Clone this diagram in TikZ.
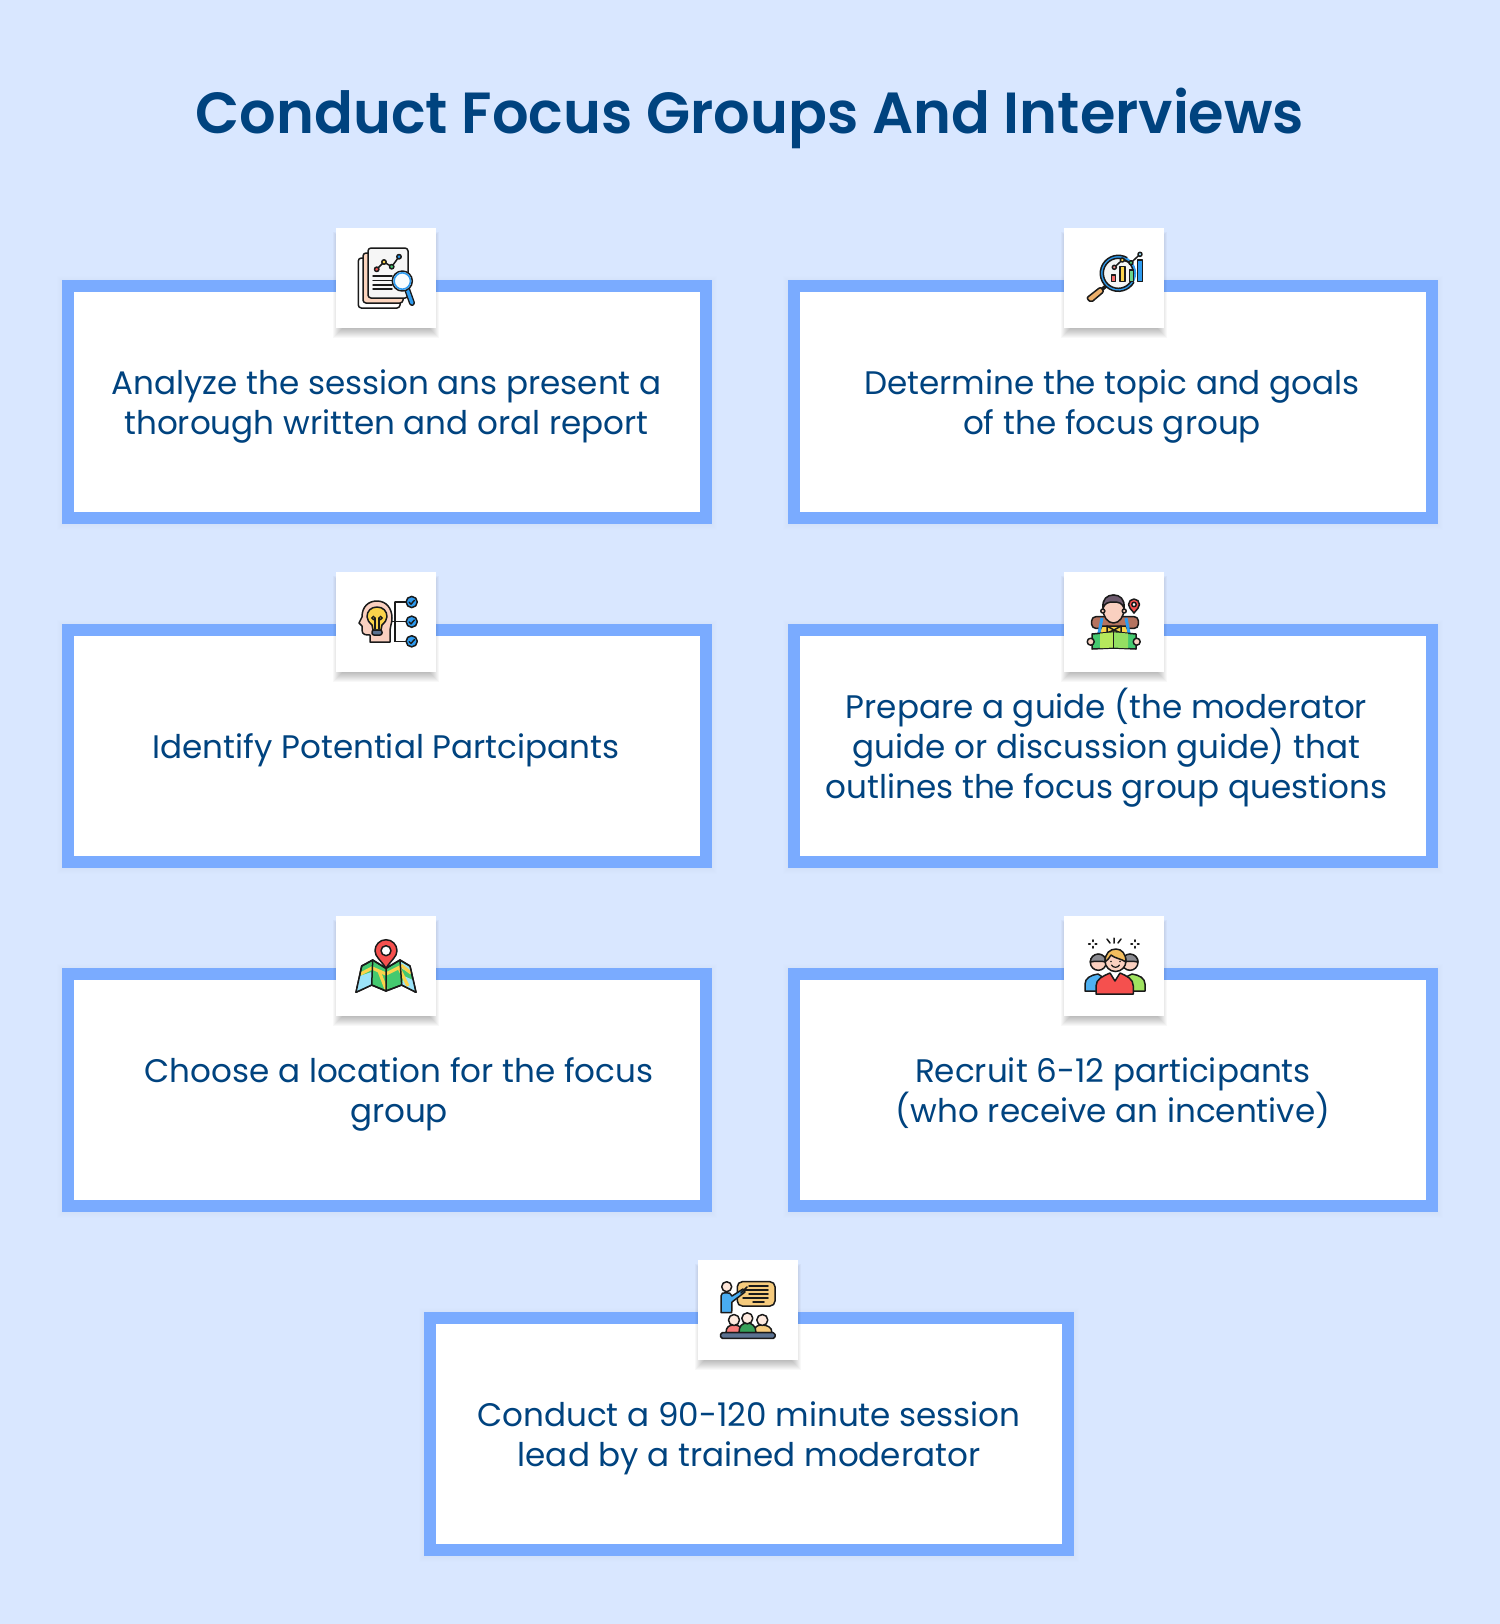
\documentclass[tikz,border=0pt]{standalone}
\usepackage{fontspec}
\setmainfont{Poppins}[FakeStretch=1.0]
\newfontfamily\titlefont{Poppins SemiBold}[FakeStretch=0.99]
\definecolor{pagebg}{HTML}{D9E7FF}
\definecolor{cardborder}{HTML}{7AABFF}
\definecolor{inkblue}{HTML}{00437F}
\definecolor{ol}{HTML}{1A1A1A}
\definecolor{peach}{HTML}{FDD5BE}
\definecolor{skin}{HTML}{FAD0C0}
\definecolor{iblue}{HTML}{2E9BEF}
\definecolor{ired}{HTML}{F5504E}
\definecolor{iyellow}{HTML}{FBD34B}
\definecolor{igreen}{HTML}{45C96F}
\definecolor{lgreen}{HTML}{B6E85C}
\definecolor{sky}{HTML}{9BE3F9}
\definecolor{orangey}{HTML}{EDAF6A}
\definecolor{sand}{HTML}{F6CB7D}
\definecolor{slate}{HTML}{5B7291}
\definecolor{grayhair}{HTML}{8A8A90}
\definecolor{brownbag}{HTML}{B5735F}
\definecolor{purplehair}{HTML}{6D5A6E}
\tikzset{
  x=0.5pt,y=-0.5pt,
  cardbox/.style={draw=cardborder,fill=white,line width=6pt,minimum width=319pt,minimum height=116pt,inner sep=0pt,outer sep=0pt},
  iconbox/.style={fill=white,minimum width=50pt,minimum height=50pt,inner sep=0pt,outer sep=0pt},
  cardtext/.style={text=inkblue,align=center,font=\fontsize{16.3}{20}\selectfont,inner sep=0pt},
  titletext/.style={text=inkblue,font=\titlefont\fontsize{29}{34}\selectfont,inner sep=0pt},
  ic/.style={draw=ol,line width=0.75pt,line join=round,line cap=round},
  il/.style={draw=ol,line width=0.75pt,line cap=round},
}
\newcommand{\softshadow}[7]{% x1 y1 x2 y2 dy opacity spread
  \foreach \gr in {0,1,...,13}{
    \fill[black,opacity=#6] ({#1-#7+\gr},{#2+#5-#7+\gr}) rectangle ({#3+#7-\gr},{#4+#5+#7-\gr});
  }
}
\newcommand{\iconreport}{
  \draw[ic,fill=white,rounded corners=1.5pt] (22.3,30) rectangle (64,80);
  \draw[ic,fill=peach,rounded corners=1.5pt] (27,25) rectangle (67,75);
  \draw[ic,fill=white!93!gray,rounded corners=1.5pt] (32,20) rectangle (72,70);
  \draw[il] (40.7,41.3) -- (48,34) -- (55.7,38.7) -- (63,28.7);
  \draw[ic,fill=ired] (40.7,41.3) circle (2.2);
  \draw[ic,fill=iyellow] (48,34) circle (2.2);
  \draw[ic,fill=igreen] (55.7,38.7) circle (2.2);
  \draw[ic,fill=iblue] (63,28.7) circle (2.2);
  \foreach \yy/\xx in {48/56,52.7/56,57/56,61/56} {\draw[il] (37,\yy) -- (\xx,\yy);}
  \draw[ol,line width=3pt,line cap=round] (71,61) -- (76,75);
  \draw[iblue,line width=1.6pt,line cap=round] (71,61) -- (76,75);
  \draw[ic,fill=white!92!sky] (66.3,53) circle (10);
  \draw[iblue,line width=0.8pt] (66.3,53) circle (8.2);
}
\newcommand{\iconchart}{
  \draw[ol,line width=1.8pt] (42,58) -- (36,63);
  \draw[ic,fill=orangey,rounded corners=1pt] (36.5,59) -- (40,63.5) -- (27,74.5) -- (22.5,70) -- cycle;
  \fill[white!92!gray] (54.3,45.3) circle (16);
  \draw[iblue,line width=1.2pt] (54.3,45.3) circle (16.6);
  \draw[ol,line width=0.75pt] (54.3,45.3) ++(30:18) arc (30:300:18);
  \draw[ol,line width=0.75pt] (54.3,45.3) circle (15);
  \draw[ic,fill=ired!85] (47.7,47) rectangle (51.7,53.7);
  \draw[ic,fill=iyellow] (56,38.7) rectangle (61,53.7);
  \draw[ic,fill=igreen!80] (65.3,42) rectangle (69.3,53.7);
  \draw[ic,fill=iblue] (73.7,32) rectangle (78.7,53.7);
  \draw[il] (50.3,39.3) -- (58.3,32) -- (67,34.7) -- (76,26.3);
  \draw[ic,fill=ired!60] (50.3,39.3) circle (2);
  \draw[ic,fill=iyellow] (58.3,32) circle (2);
  \draw[ic,fill=igreen] (67,34.7) circle (2);
  \draw[ic,fill=sky] (76,26.3) circle (2);
}
\newcommand{\iconhead}{
  \draw[il] (59,30) -- (70,30) (59,30) -- (59,69.3) -- (70,69.3) (55,49.7) -- (70,49.7);
  \draw[ic,fill=skin] (34,70) -- (34,63) .. controls (30,63) and (26,63) .. (26,58)
     -- (26,54) -- (23,51) -- (26,45) .. controls (26,35) and (32,29) .. (41,29)
     .. controls (50,29) and (56,36) .. (56,46) .. controls (56,52) and (54,54) .. (54,58) -- (54,70) -- cycle;
  \draw[ic,fill=iyellow] (37,58) -- (36,53) .. controls (33,50) and (31,48) .. (31,44.7)
     .. controls (31,39) and (35,35) .. (41,35) .. controls (47,35) and (51,39) .. (51,44.7)
     .. controls (51,48) and (49,50) .. (46,53) -- (45,58) -- cycle;
  \draw[il,line width=0.6pt] (39,57) -- (39,46) (43,57) -- (43,46);
  \draw[il,line width=0.6pt] (37.4,46) circle (1.6) (44.6,46) circle (1.6);
  \draw[ic,fill=slate,rounded corners=1pt] (36,58) rectangle (46,63);
  \foreach \yy in {30,49.7,69.3}{
    \draw[ic,fill=iblue] (75.7,\yy) circle (5.6);
    \draw[ol,line width=0.7pt,line cap=round,line join=round] (73,\yy) ++(0,0.2) -- ++(2,2) -- ++(3.3,-3.8);
  }
}
\newcommand{\iconhiker}{
  \draw[ic,fill=brownbag,rounded corners=2pt] (27.7,44.7) rectangle (74.3,56.3);
  \draw[ic,fill=iyellow] (34,62) -- (38,54) -- (62,54) -- (66,62) -- cycle;
  \draw[iblue,line width=1.5pt] (38,46) -- (35,61) (62,46) -- (65,61);
  \draw[ic,fill=skin] (49.5,37) ellipse (10.5 and 14);
  \draw[ic,fill=skin] (38.8,39) circle (2);
  \draw[ic,fill=skin] (60.2,39) circle (2);
  \draw[ic,fill=purplehair] (39,36) .. controls (38,27) and (43,23) .. (49.5,23)
     .. controls (56,23) and (61,27) .. (60,36) .. controls (58,31) and (55,30) .. (49.5,30)
     .. controls (44,30) and (41,31) .. (39,36) -- cycle;
  \draw[ic,fill=iyellow] (50,58) -- (43,54) -- (43,61) -- cycle (50,58) -- (57,54) -- (57,61) -- cycle;
  \draw[ic,fill=igreen] (28,62) -- (49.5,60) -- (49.5,76) -- (28,77) -- cycle;
  \draw[ic,fill=igreen] (72,62) -- (49.5,60) -- (49.5,76) -- (72,77) -- cycle;
  \fill[lgreen] (36,61.5) -- (49.5,60.3) -- (49.5,75.5) -- (36,76.2) -- cycle;
  \fill[lgreen!70!igreen] (49.5,60.3) -- (64,61.5) -- (64,76.2) -- (49.5,75.5) -- cycle;
  \draw[il] (49.5,60) -- (49.5,76);
  \draw[ic,fill=skin] (26.7,69.7) circle (3.5);
  \draw[ic,fill=skin] (72.7,69.7) circle (3.5);
  \draw[ic,fill=ired] (70,41) .. controls (67,37) and (64.5,35.5) .. (64.5,32.5) arc (180:360:5.5) .. controls (75.5,35.5) and (73,37) .. (70,41) -- cycle;
  \draw[ic,fill=white] (70,32.5) circle (2.2);
}
\newcommand{\iconmap}{
  \draw[ic,fill=igreen] (20,76.3) -- (25.7,50) -- (36.7,44) -- (50,52.3) -- (64,44) -- (74,50) -- (80,76.3) -- (65.7,69) -- (50,75) -- (35.7,69) -- cycle;
  \fill[sky] (20.5,75.5) -- (23.5,60) -- (35.7,56) -- (35.7,68.5) -- cycle;
  \fill[sky] (65,46) -- (73.5,51) -- (75,58) -- (65,52) -- cycle;
  \fill[sky] (68,60) -- (77,64) -- (79,75) -- (66,68.5) -- cycle;
  \draw[iyellow,line width=1.6pt] (24.5,58) -- (36,52) -- (50,58) -- (66,50) -- (75,57);
  \draw[iyellow,line width=1.6pt] (43,55) -- (50,73);
  \draw[iyellow,line width=1.6pt] (63,52) -- (72,70);
  \draw[ic] (20,76.3) -- (25.7,50) -- (36.7,44) -- (50,52.3) -- (64,44) -- (74,50) -- (80,76.3) -- (65.7,69) -- (50,75) -- (35.7,69) -- cycle;
  \draw[il] (36.7,44) -- (35.7,69) (64,44) -- (65.7,69) (50,52.3) -- (50,75);
  \draw[ic,fill=ired] (50,52.3) .. controls (45,44) and (39,41) .. (39,34.7) arc (180:360:11) .. controls (61,41) and (55,44) .. (50,52.3) -- cycle;
  \draw[ic,fill=white] (50,34.7) circle (5);
}
\newcommand{\iconteam}{
  \draw[ic,fill=iblue!70!sky] (21,75) -- (21,68) .. controls (21,62) and (27,59) .. (34,58) -- (40,62) -- (40,75) -- cycle;
  \draw[ic,fill=lgreen!80!igreen] (81,75) -- (81,68) .. controls (81,62) and (75,59) .. (68,58) -- (60,62) -- (60,75) -- cycle;
  \draw[ic,fill=skin] (34.3,46.3) circle (8);
  \draw[ic,fill=skin] (66,46.3) circle (8);
  \draw[ic,fill=grayhair] (26.3,46) arc (180:360:8) .. controls (38,45) and (30,45) .. (26.3,46) -- cycle;
  \draw[ic,fill=grayhair] (58,46) arc (180:360:8) .. controls (70,45) and (62,45) .. (58,46) -- cycle;
  \draw[ic,fill=ired] (32,78) -- (32,70) .. controls (32,63) and (39,60) .. (46,57) -- (51,65) -- (56,57) .. controls (63,60) and (69.3,63) .. (69.3,70) -- (69.3,78) -- cycle;
  \draw[ic,fill=skin] (51.5,45) circle (10.5);
  \draw[ic,fill=orangey!60!iyellow] (41,46) .. controls (41,37) and (46,33) .. (52,33) .. controls (58,33) and (62,38) .. (62,46) .. controls (58,43) and (50,42) .. (47,39) .. controls (46,42) and (43,44) .. (41,46) -- cycle;
  \draw[il,line width=0.6pt] (47.5,49) .. controls (49,52) and (54,52) .. (55.5,49);
  \fill[ol] (47,45.5) circle (0.9) (56,45.5) circle (0.9);
  \draw[il] (50,22) -- (50,27) (43,23) -- (46,27) (57,23) -- (54,27);
  \foreach \sx in {28.7,71}{
    \draw[il,line width=0.9pt] (\sx,24) -- (\sx,25.5) (\sx,30.5) -- (\sx,32) (\sx-4,28) -- (\sx-2.5,28) (\sx+2.5,28) -- (\sx+4,28);
  }
}
\newcommand{\iconclass}{
  \draw[ic,fill=sand,rounded corners=2.5pt] (39.3,21.7) rectangle (77,46);
  \foreach \ya/\xa/\xb in {26/51/70,30/45/70,34/51/70,38/45/70,42/55/66}{\draw[il] (\xa,\ya) -- (\xb,\ya);}
  \draw[ic,fill=iblue!75!sky] (23,52.7) -- (23,36) .. controls (23,33) and (25,32.7) .. (28,32.7) .. controls (31,32.7) and (33,33) .. (34,36) -- (45,29) -- (47,32) -- (34,42) -- (33.7,52.7) -- cycle;
  \draw[il] (43,33) -- (49,27);
  \draw[ic,fill=peach!60!white] (28.7,26.7) circle (5);
  \draw[ic,fill=ired!75] (28,72.7) .. controls (28,67) and (31,65) .. (36,65) .. controls (41,65) and (44,67) .. (44,72.7) -- cycle;
  \draw[ic,fill=sand] (56,72.7) .. controls (56,67) and (59,65) .. (64,65) .. controls (69,65) and (74,67) .. (74,72.7) -- cycle;
  \draw[ic,fill=igreen!80!black] (41,72.7) .. controls (41,66) and (44,63) .. (49.3,63) .. controls (54,63) and (58,66) .. (58,72.7) -- cycle;
  \draw[ic,fill=peach!50!white] (36,60) circle (5.5);
  \draw[ic,fill=peach!50!white] (64.3,60) circle (5.5);
  \draw[ic,fill=peach!50!white] (49.3,58.3) circle (5.5);
  \draw[ic,fill=slate,rounded corners=0.8pt] (22.7,72.7) rectangle (77,78.3);
}
\begin{document}
\begin{tikzpicture}
\useasboundingbox[fill=pagebg] (0,0) rectangle (1500,1624);
\softshadow{62}{280}{712}{524}{1}{0.004}{5}
\softshadow{788}{280}{1438}{524}{1}{0.004}{5}
\softshadow{62}{624}{712}{868}{1}{0.004}{5}
\softshadow{788}{624}{1438}{868}{1}{0.004}{5}
\softshadow{62}{968}{712}{1212}{1}{0.004}{5}
\softshadow{788}{968}{1438}{1212}{1}{0.004}{5}
\softshadow{424}{1312}{1074}{1556}{1}{0.004}{5}
\node[cardbox] (card1) at (387,402) {};
\node[cardbox] (card2) at (1113,402) {};
\node[cardbox] (card3) at (387,746) {};
\node[cardbox] (card4) at (1113,746) {};
\node[cardbox] (card5) at (387,1090) {};
\node[cardbox] (card6) at (1113,1090) {};
\node[cardbox] (card7) at (749,1434) {};
\node[titletext] (title) at (750,118.5) {Conduct Focus Groups And Interviews};
\node[cardtext] (text1) at (386.5,406.5) {Analyze the session ans present a\\thorough written and oral report};
\node[cardtext] (text2) at (1112,406.5) {Determine the topic and goals\\of the focus group};
\node[cardtext] (text3) at (386,750) {Identify Potential Partcipants};
\node[cardtext] (text4) at (1106.5,748) {Prepare a guide (the moderator\\guide or discussion guide) that\\outlines the focus group questions};
\node[cardtext] (text5) at (399,1094) {Choose a location for the focus\\group};
\node[cardtext] (text6) at (1113,1093) {Recruit 6-12 participants\\(who receive an incentive)};
\node[cardtext] (text7) at (749,1438) {Conduct a 90-120 minute session\\lead by a trained moderator};
\foreach \nm/\cx/\cy/\ico in {a/386/278/\iconreport,b/1114/278/\iconchart,c/386/622/\iconhead,d/1114/622/\iconhiker,e/386/966/\iconmap,f/1114/966/\iconteam,g/748/1310/\iconclass}{
  \softshadow{\cx-50}{\cy-50}{\cx+50}{\cy+50}{7}{0.028}{3}
  \node[iconbox] (icon\nm) at (\cx,\cy) {};
  \begin{scope}[shift={(\cx-50,\cy-50)}]
    \ico
  \end{scope}
}
\end{tikzpicture}
\end{document}
